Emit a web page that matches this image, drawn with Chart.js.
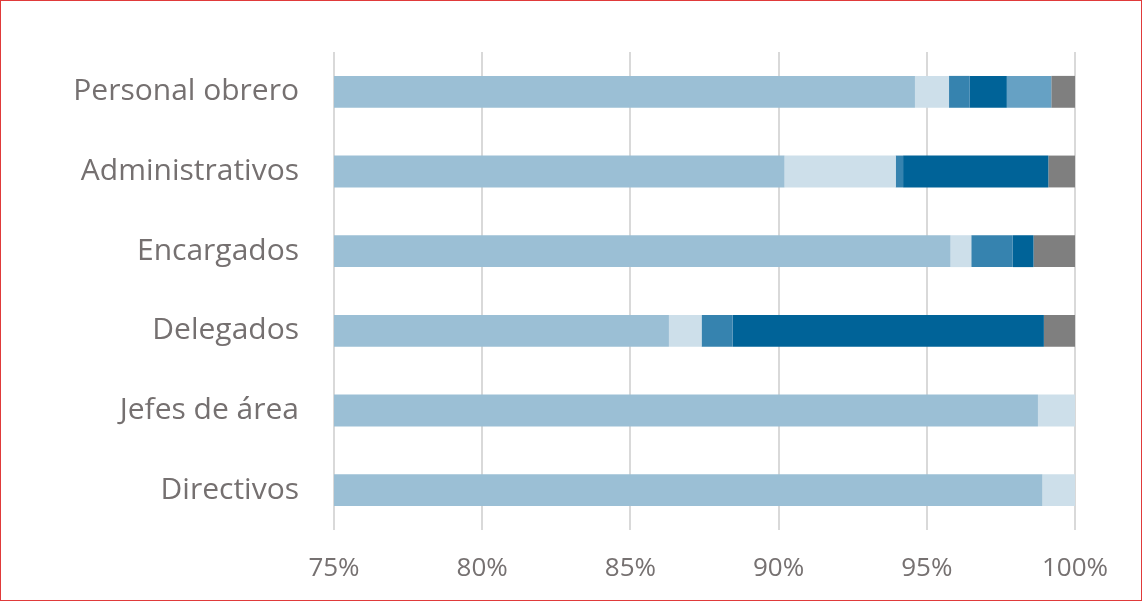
<!DOCTYPE html>
<html>
<head>
<meta charset="utf-8">
<script src="https://cdn.jsdelivr.net/npm/chart.js@4.4.1/dist/chart.umd.min.js"></script>
<style>
  html, body { margin: 0; padding: 0; background: #fff; }
  #wrap { position: relative; width: 1142px; height: 601px; box-sizing: border-box; border: 1px solid #e03a3a; }
  canvas { display: block; }
</style>
</head>
<body>
<div id="wrap"><canvas id="chart" width="1140" height="599"></canvas></div>
<script>
const categories = ['Personal obrero', 'Administrativos', 'Encargados', 'Delegados', 'Jefes de área', 'Directivos']
const tickValues = [75, 80, 85, 90, 95, 100]

// shares per category (sum 100)
const serie1 = [94.6, 90.2, 95.8, 86.3, 98.75, 98.9]
const serie2 = [1.15, 3.75, 0.7, 1.1, 1.25, 1.1]
const serie3 = [0.7, 0.25, 1.4, 1.05, 0, 0]
const serie4 = [1.25, 4.9, 0.7, 10.5, 0, 0]
const serie5 = [1.5, 0, 0, 0, 0, 0]
const serie6 = [0.8, 0.9, 1.4, 1.05, 0, 0]

const colors = ['#9bbfd5', '#cddfea', '#3683af', '#006398', '#66a1c4', '#7f7f7f']
const series = [serie1, serie2, serie3, serie4, serie5, serie6]

const ctx = document.getElementById('chart').getContext('2d')

new Chart(ctx, {
  type: 'bar',
  data: {
    labels: categories,
    datasets: series.map((d, i) => ({
      label: 'S' + (i + 1),
      data: d,
      backgroundColor: colors[i],
      borderWidth: 0,
      barPercentage: 0.4,
      categoryPercentage: 1
    }))
  },
  options: {
    indexAxis: 'y',
    responsive: false,
    animation: false,
    layout: { padding: { top: 51, right: 66, bottom: 10, left: 0 } },
    plugins: { legend: { display: false }, tooltip: { enabled: false } },
    scales: {
      x: {
        stacked: true,
        min: 75,
        max: 100,
        z: 1,
        afterBuildTicks: (axis) => { axis.ticks = tickValues.map(v => ({ value: v })) },
        afterFit: (axis) => { axis.height = 60 },
        grid: { color: 'rgba(0,0,0,0.15)', lineWidth: 2, drawTicks: false },
        border: { display: false },
        ticks: {
          padding: 23,
          color: '#767171',
          font: { family: 'Open Sans', size: 26 },
          callback: (v) => v + '%'
        }
      },
      y: {
        stacked: true,
        afterFit: (axis) => { axis.width = 333 },
        grid: { display: false },
        border: { display: false },
        ticks: {
          padding: 27,
          color: '#757070',
          font: { family: 'Open Sans', size: 30 }
        }
      }
    }
  }
})
</script>
</body>
</html>
